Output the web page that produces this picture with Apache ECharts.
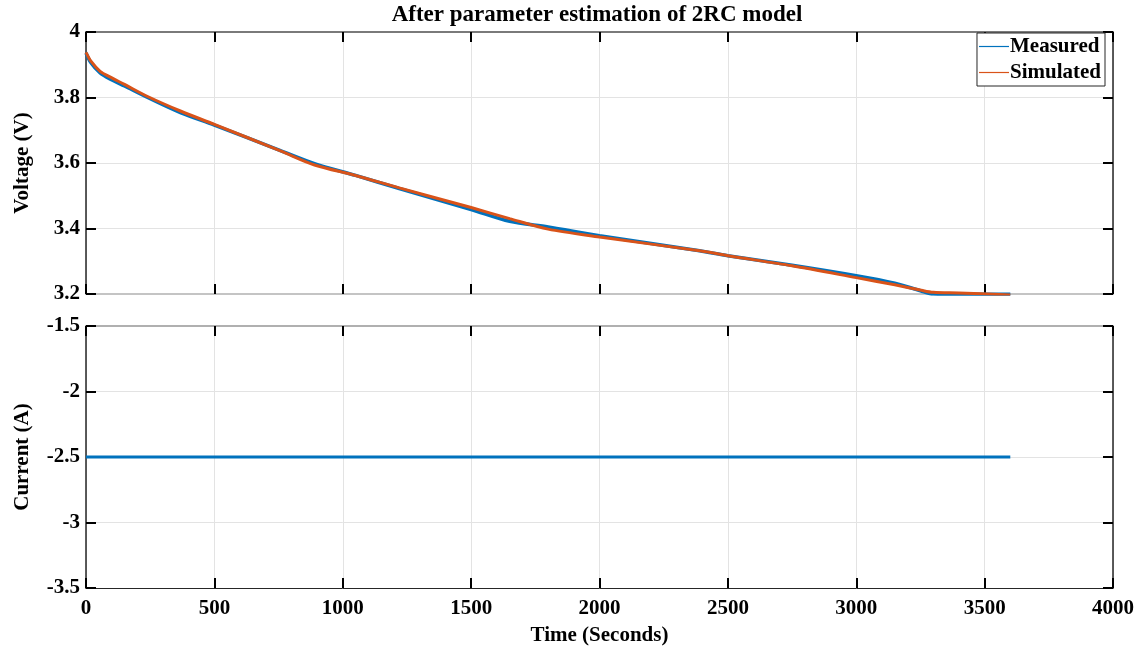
<!DOCTYPE html>
<html>
<head>
<meta charset="utf-8">
<script src="https://cdn.jsdelivr.net/npm/echarts@6/dist/echarts.min.js"></script>
<style>html,body{margin:0;padding:0;background:#fff;}#c{width:1145px;height:650px;}</style>
</head>
<body>
<div id="c"></div>
<script>
const timeS = [0, 20, 55, 95, 150, 240, 370, 500, 760, 890, 1050, 1220, 1500, 1650, 1800, 2000, 2390, 2500, 2750, 3000, 3150, 3250, 3300, 3400, 3600];
const measuredV = [3.936, 3.905, 3.875, 3.856, 3.835, 3.80, 3.753, 3.716, 3.637, 3.598, 3.562, 3.522, 3.458, 3.422, 3.405, 3.378, 3.332, 3.317, 3.288, 3.256, 3.233, 3.21, 3.2, 3.199, 3.199];
const simulatedV = [3.938, 3.91, 3.88, 3.862, 3.84, 3.803, 3.758, 3.718, 3.636, 3.594, 3.562, 3.524, 3.464, 3.43, 3.398, 3.374, 3.332, 3.317, 3.286, 3.25, 3.228, 3.212, 3.205, 3.203, 3.197];
const currentT = [0, 3600];
const currentA = [-2.5, -2.5];
const titleText = 'After parameter estimation of 2RC model';
const seriesNames = ['Measured', 'Simulated'];

const FONT = '"Liberation Serif", "Times New Roman", serif';
const AX = '#262626';
const GRIDC = '#e3e3e3';
const lbl = {fontFamily: FONT, fontWeight: 'bold', fontSize: 21, color: '#000'};
const plain = v => String(v);

function pairs(xs, ys){ return xs.map((x,i)=>[x, ys[i]]); }

function xMain(grid, showLabels, name){
  return {
    type:'value', gridIndex:grid, min:0, max:4000, interval:500, position:'bottom',
    axisLine:{show:true, onZero:false, lineStyle:{color: showLabels ? AX : '#c4c4c4', width: showLabels?1:2}},
    axisTick:{show:true, inside:true, length:10, lineStyle:{color:'#000', width:2}},
    axisLabel:Object.assign({show:showLabels, margin:10, formatter:plain}, lbl),
    splitLine:{show:true, lineStyle:{color:GRIDC, width:1}},
    name: name || '', nameLocation:'middle', nameGap:37,
    nameTextStyle:Object.assign({}, lbl)
  };
}
function xTop(grid, lineColor){
  return {
    type:'value', gridIndex:grid, min:0, max:4000, interval:500, position:'top',
    axisLine:{show:true, onZero:false, lineStyle:{color:lineColor, width:2}},
    axisTick:{show:true, inside:true, length:10, lineStyle:{color:'#000', width:2}},
    axisLabel:{show:false}, splitLine:{show:false}
  };
}
function yMain(grid, min, max, interval, name){
  return {
    type:'value', gridIndex:grid, min:min, max:max, interval:interval, position:'left',
    axisLine:{show:true, onZero:false, lineStyle:{color:AX, width:1.5}},
    axisTick:{show:true, inside:true, length:10, lineStyle:{color:'#000', width:2}},
    axisLabel:Object.assign({margin:6, formatter:plain}, lbl),
    splitLine:{show:true, lineStyle:{color:GRIDC, width:1}},
    name:name, nameLocation:'middle', nameGap:53, nameRotate:90,
    nameTextStyle:Object.assign({}, lbl)
  };
}
function yRight(grid, min, max, interval){
  return {
    type:'value', gridIndex:grid, min:min, max:max, interval:interval, position:'right',
    axisLine:{show:true, onZero:false, lineStyle:{color:AX, width:1.5}},
    axisTick:{show:true, inside:true, length:10, lineStyle:{color:'#000', width:2}},
    axisLabel:{show:false}, splitLine:{show:false}
  };
}

const chart = echarts.init(document.getElementById('c'), null, {renderer:'canvas'});
chart.setOption({
  backgroundColor:'#fff',
  animation:false,
  title:{text:titleText, left:592, textAlign:'center', top:-1, textStyle:Object.assign({}, lbl, {fontSize:23})},
  legend:{
    data:seriesNames, right:40, top:33, orient:'vertical', icon:'rect',
    backgroundColor:'#fff', borderColor:AX, borderWidth:1, borderRadius:0,
    padding:[2,4,2,2], itemGap:3, itemWidth:30, itemHeight:1.2,
    textStyle:Object.assign({}, lbl, {padding:[0,0,0,-4], lineHeight:23})
  },
  grid:[
    {left:86, right:32, top:32, height:262},
    {left:86, right:32, top:326, height:262}
  ],
  xAxis:[ xMain(0,false), xMain(1,true,'Time (Seconds)'), xTop(0,'#7a7a7a'), xTop(1,'#b0b0b0') ],
  yAxis:[ yMain(0,3.2,4,0.2,'Voltage (V)'), yMain(1,-3.5,-1.5,0.5,'Current (A)'), yRight(0,3.2,4,0.2), yRight(1,-3.5,-1.5,0.5) ],
  series:[
    {name:seriesNames[0], type:'line', xAxisIndex:0, yAxisIndex:0, data:pairs(timeS, measuredV),
     showSymbol:false, symbol:'none', smooth:0.3, color:'#0072BD', lineStyle:{width:3.5}, z:3},
    {name:seriesNames[1], type:'line', xAxisIndex:0, yAxisIndex:0, data:pairs(timeS, simulatedV),
     showSymbol:false, symbol:'none', smooth:0.3, color:'#D95319', lineStyle:{width:3}, z:4},
    {name:'Current', type:'line', xAxisIndex:1, yAxisIndex:1, data:pairs(currentT, currentA),
     showSymbol:false, symbol:'none', color:'#0072BD', lineStyle:{width:3}, z:3}
  ]
});
</script>
</body>
</html>
